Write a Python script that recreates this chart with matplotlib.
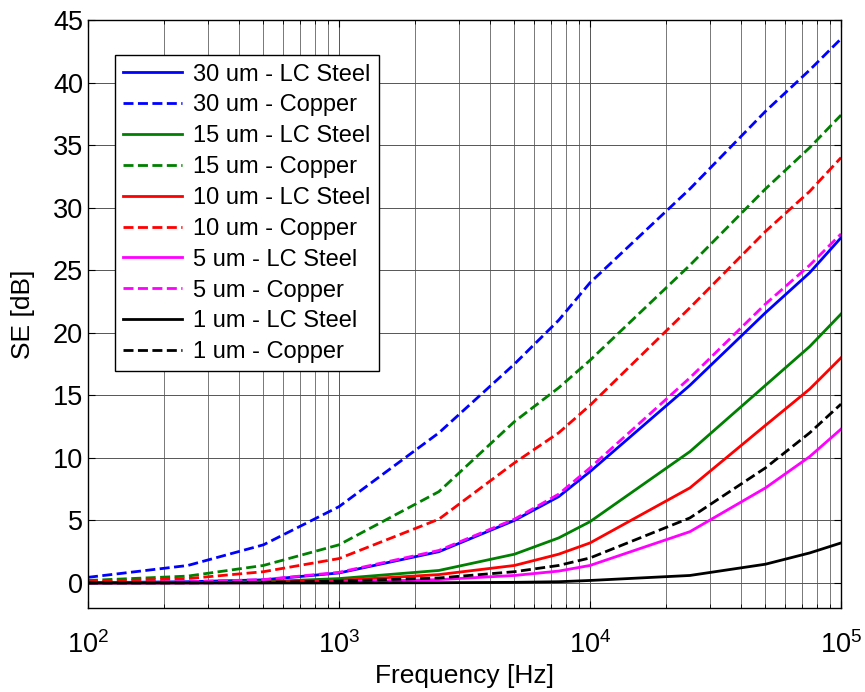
import matplotlib.pyplot as plt
from matplotlib.ticker import LogLocator, NullFormatter

plt.rcParams['font.family'] = ['Liberation Sans', 'DejaVu Sans']

# frequency points [Hz]
freq = [100, 250, 500, 1000, 2500, 5000, 7500, 10000, 25000, 50000, 75000, 100000]

# shielding effectiveness [dB]
cu_30 = [0.45, 1.4, 3.05, 6.1, 12.0, 17.5, 21.0, 24.0, 31.5, 37.7, 41.0, 43.5]
st_30 = [0.02, 0.1, 0.25, 0.8, 2.5, 5.0, 6.9, 8.9, 15.8, 21.6, 24.8, 27.6]
cu_15 = [0.2, 0.55, 1.4, 3.05, 7.3, 12.9, 15.6, 17.8, 25.4, 31.5, 34.8, 37.4]
st_15 = [0.0, 0.03, 0.1, 0.35, 1.0, 2.3, 3.6, 4.9, 10.5, 15.8, 18.9, 21.5]
cu_10 = [0.1, 0.35, 0.9, 1.95, 5.1, 9.6, 12.0, 14.2, 22.0, 28.1, 31.3, 34.0]
st_10 = [0.0, 0.02, 0.06, 0.2, 0.67, 1.4, 2.3, 3.2, 7.6, 12.6, 15.5, 18.0]
cu_5 = [0.02, 0.1, 0.27, 0.85, 2.6, 5.1, 7.1, 9.2, 16.4, 22.3, 25.4, 27.9]
st_5 = [0.0, 0.0, 0.02, 0.08, 0.27, 0.6, 0.95, 1.4, 4.1, 7.6, 10.1, 12.3]
cu_1 = [0.0, 0.01, 0.04, 0.15, 0.4, 0.9, 1.4, 2.0, 5.2, 9.2, 12.0, 14.3]
st_1 = [0.0, 0.0, 0.0, 0.0, 0.02, 0.05, 0.1, 0.2, 0.6, 1.5, 2.4, 3.2]

series = [
    (st_30, 'b', '-', '30 um - LC Steel'),
    (cu_30, 'b', '--', '30 um - Copper'),
    (st_15, '#008000', '-', '15 um - LC Steel'),
    (cu_15, '#008000', '--', '15 um - Copper'),
    (st_10, 'r', '-', '10 um - LC Steel'),
    (cu_10, 'r', '--', '10 um - Copper'),
    (st_5, 'magenta', '-', '5 um - LC Steel'),
    (cu_5, 'magenta', '--', '5 um - Copper'),
    (st_1, 'k', '-', '1 um - LC Steel'),
    (cu_1, 'k', '--', '1 um - Copper'),
]

fig = plt.figure(figsize=(8.65, 6.92), dpi=100)
ax = fig.add_axes([0.1017, 0.1214, 0.8706, 0.8497])

for y, c, ls, lab in series:
    if ls == '--':
        ax.plot(freq, y, color=c, lw=2, linestyle=(0, (3.6, 1.6)), label=lab)
    else:
        ax.plot(freq, y, color=c, lw=2, linestyle='-', label=lab)

ax.set_xscale('log')
ax.set_xlim(1e2, 1e5)
ax.set_ylim(-2, 45)
ax.set_yticks(range(0, 46, 5))
ax.xaxis.set_minor_locator(LogLocator(base=10, subs=range(2, 10)))
ax.xaxis.set_minor_formatter(NullFormatter())

ax.grid(True, which='major', color='#555555', lw=0.7)
ax.grid(True, which='minor', axis='x', color='#777777', lw=0.7)
ax.set_axisbelow(True)

ax.tick_params(which='both', direction='in', top=True, right=True, labelsize=19.5)
ax.tick_params(which='major', length=5)
ax.tick_params(which='minor', length=3)
ax.tick_params(axis='x', which='major', pad=17)
for s in ax.spines.values():
    s.set_linewidth(1.0)

ax.set_xlabel('Frequency [Hz]', fontsize=19, labelpad=3)
ax.set_ylabel('SE [dB]', fontsize=19, labelpad=13)

leg = ax.legend(loc='upper left', bbox_to_anchor=(0.036, 0.94), fontsize=17,
                frameon=True, fancybox=False, edgecolor='black', framealpha=1,
                handlelength=2.5, labelspacing=0.375, borderpad=0.35,
                handletextpad=0.45, borderaxespad=0)
leg.get_frame().set_linewidth(1.0)

fig.savefig('out.png', dpi=100)
